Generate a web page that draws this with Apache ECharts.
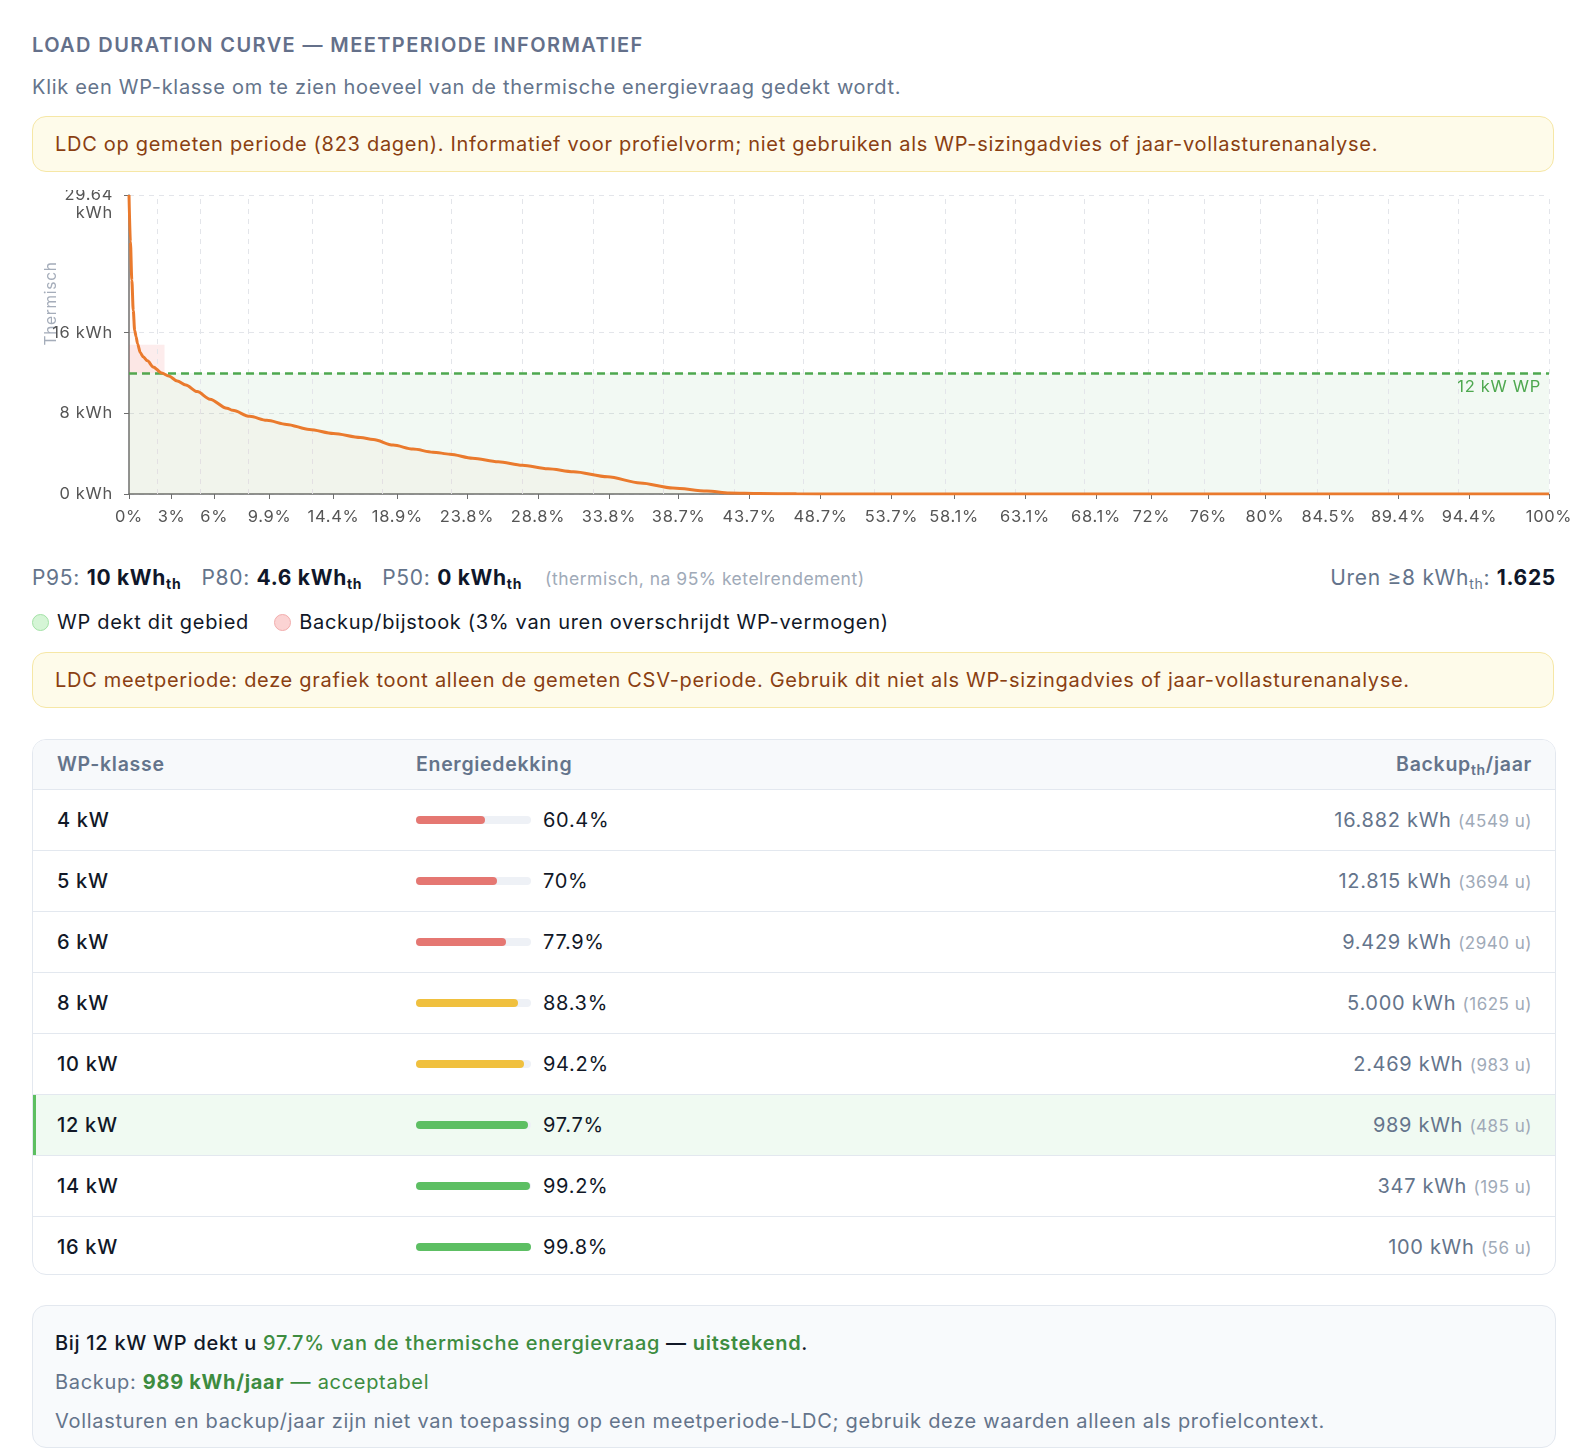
<!DOCTYPE html>
<html>
<head>
<meta charset="utf-8">
<script src="https://cdn.jsdelivr.net/npm/echarts@6/dist/echarts.min.js"></script>
<style>
  html, body { margin: 0; padding: 0; background: #fff; }
  body { width: 1590px; height: 1450px; position: relative; font-family: Inter, "Noto Sans", sans-serif; color: #111827; letter-spacing: 0.7px; }
  .abs { position: absolute; }
  .title { left: 32px; top: 32px; font-size: 20px; line-height: 26px; font-weight: 600; color: #64708a; letter-spacing: 1.4px; }
  .sub { left: 32px; top: 74px; font-size: 20px; line-height: 26px; color: #64748b; }
  .warn { left: 32px; width: 1522px; height: 56px; box-sizing: border-box; background: #fefbea; border: 1px solid #f6e7a6; border-radius: 14px; color: #8a3f12; font-size: 20px; line-height: 54px; padding-left: 22px; }
  #chart { left: 0; top: 190px; width: 1590px; height: 345px; }
  .stats { left: 32px; top: 565px; font-size: 21px; line-height: 26px; color: #64748b; width: 1524px; }
  .stats .it { margin-right: 20px; }
  .stats b { color: #0f172a; font-weight: 700; }
  .stats sub { font-size: 14px; vertical-align: -4px; line-height: 0; }
  .stats .note { font-size: 17.5px; color: #a0aab8; margin-left: 3px; letter-spacing: 0.5px; }
  .stats .right { position: absolute; right: 0; top: 0; }
  .legend { left: 32px; top: 609px; font-size: 20px; line-height: 26px; color: #111827; }
  .dot { display: inline-block; width: 17px; height: 17px; border-radius: 50%; vertical-align: -2px; margin-right: 8px; box-sizing: border-box; }
  .table { left: 32px; top: 739px; width: 1524px; height: 536px; box-sizing: border-box; border: 1px solid #e3e8ef; border-radius: 14px; overflow: hidden; }
  .row { position: relative; height: 60px; border-top: 1px solid #e3e8ef; font-size: 20px; }
  .row.head { height: 49px; border-top: none; background: #f7f9fb; color: #64748b; font-weight: 600; font-size: 19.5px; }
  .row.sel { background: #f0faf2; box-shadow: inset 3px 0 0 #5cbf60; }
  .c1 { position: absolute; left: 24px; top: 0; line-height: 60px; font-weight: 500; }
  .c2 { position: absolute; left: 383px; top: 0; line-height: 60px; }
  .c3 { position: absolute; right: 23px; top: 0; line-height: 60px; color: #64748b; }
  .head .c1, .head .c2, .head .c3 { line-height: 49px; }
  .head .c1 { font-weight: 600; }
  .track { display: inline-block; width: 115px; height: 8px; background: #eef1f6; border-radius: 4px; vertical-align: 3px; margin-right: 12px; position: relative; }
  .fill { position: absolute; left: 0; top: 0; height: 8px; border-radius: 4px; }
  .hrs { font-size: 17px; color: #a0aab8; letter-spacing: 0.5px; }
  .summary { left: 32px; top: 1305px; width: 1524px; height: 143px; box-sizing: border-box; background: #f8fafc; border: 1px solid #e3e8ef; border-radius: 14px; padding: 18px 22px; font-size: 20px; line-height: 39px; color: #64748b; }
  .summary .l1 { color: #111827; font-weight: 500; }
  .g { color: #3d8c40; }
</style>
</head>
<body>
<div class="abs title">LOAD DURATION CURVE — MEETPERIODE INFORMATIEF</div>
<div class="abs sub">Klik een WP-klasse om te zien hoeveel van de thermische energievraag gedekt wordt.</div>
<div class="abs warn" style="top:116px">LDC op gemeten periode (823 dagen). Informatief voor profielvorm; niet gebruiken als WP-sizingadvies of jaar-vollasturenanalyse.</div>
<div class="abs" id="chart"></div>
<div class="abs stats">
  <span class="it">P95: <b>10 kWh<sub>th</sub></b></span><span class="it">P80: <b>4.6 kWh<sub>th</sub></b></span><span class="it">P50: <b>0 kWh<sub>th</sub></b></span><span class="note">(thermisch, na 95% ketelrendement)</span>
  <span class="right">Uren ≥8 kWh<sub>th</sub>: <b>1.625</b></span>
</div>
<div class="abs legend">
  <span class="dot" style="background:#d5f5d6;border:1.5px solid #a3e2a6"></span>WP dekt dit gebied&nbsp;&nbsp;&nbsp;
  <span class="dot" style="background:#fbd3d3;border:1.5px solid #f2adad"></span>Backup/bijstook (3% van uren overschrijdt WP-vermogen)
</div>
<div class="abs warn" style="top:652px">LDC meetperiode: deze grafiek toont alleen de gemeten CSV-periode. Gebruik dit niet als WP-sizingadvies of jaar-vollasturenanalyse.</div>
<div class="abs table" id="table"></div>
<div class="abs summary">
  <div class="l1">Bij 12 kW WP dekt u <span class="g">97.7% van de thermische energievraag</span> — <span class="g" style="font-weight:600">uitstekend</span>.</div>
  <div>Backup: <b class="g">989 kWh/jaar</b> <span class="g">— acceptabel</span></div>
  <div>Vollasturen en backup/jaar zijn niet van toepassing op een meetperiode-LDC; gebruik deze waarden alleen als profielcontext.</div>
</div>

<script>
// load duration curve (x = % of hours, y = thermal kWh)
const pct = [0, 0.1, 0.2, 0.3, 0.4, 0.5, 0.6, 0.8, 1.0, 1.3, 1.7, 2.3, 2.8, 3.4, 4.0, 4.8, 5.7, 6.9, 7.3, 8.5, 9.7, 11.1, 12.7, 14.4, 16.3, 17.2, 18.6, 20.0, 21.4, 22.6, 24.2, 26.0, 27.7, 29.5, 31.3, 33.7, 36.0, 38.3, 40.7, 42.3, 44.4, 47, 50, 60, 70, 80, 90, 100];
const kwh = [29.64, 25, 21.2, 18.2, 16.2, 15.6, 14.9, 14.0, 13.6, 13.2, 12.6, 12.0, 11.7, 11.2, 10.8, 10.15, 9.4, 8.5, 8.3, 7.7, 7.3, 6.9, 6.4, 6.0, 5.6, 5.4, 4.85, 4.45, 4.15, 3.95, 3.55, 3.2, 2.85, 2.5, 2.2, 1.7, 1.1, 0.6, 0.3, 0.1, 0.05, 0.02, 0, 0, 0, 0, 0, 0];
const xTicks = [0, 3, 6, 9.9, 14.4, 18.9, 23.8, 28.8, 33.8, 38.7, 43.7, 48.7, 53.7, 58.1, 63.1, 68.1, 72, 76, 80, 84.5, 89.4, 94.4, 100];
const xGrid = [2, 5, 8.4, 12.9, 17.8, 22.7, 27.7, 32.7, 37.6, 42.6, 47.5, 52.5, 57.5, 62.4, 67.3, 71.8, 75.7, 79.7, 83.7, 88.7, 93.6, 100];
const yTicks = [0, 8, 16, 29.64];
const yMax = 29.64;
const wpKw = 12;
const backupX = 2.5;
const backupTop = 14.8;

// WP class table
const classes = ['4 kW', '5 kW', '6 kW', '8 kW', '10 kW', '12 kW', '14 kW', '16 kW'];
const coverage = [60.4, 70, 77.9, 88.3, 94.2, 97.7, 99.2, 99.8];
const backupKwh = ['16.882', '12.815', '9.429', '5.000', '2.469', '989', '347', '100'];
const backupHours = [4549, 3694, 2940, 1625, 983, 485, 195, 56];
const selected = '12 kW';

function barColor(p) {
  if (p < 85) return '#e57772';
  if (p < 95) return '#f0c03e';
  return '#5dbf63';
}

let html = '<div class="row head"><span class="c1">WP-klasse</span><span class="c2">Energiedekking</span>' +
  '<span class="c3">Backup<sub style="font-size:14px;vertical-align:-4px;line-height:0">th</sub>/jaar</span></div>';
classes.forEach((c, i) => {
  html += '<div class="row' + (c === selected ? ' sel' : '') + '">' +
    '<span class="c1">' + c + '</span>' +
    '<span class="c2"><span class="track"><span class="fill" style="width:' + coverage[i] + '%;background:' + barColor(coverage[i]) + '"></span></span>' + coverage[i] + '%</span>' +
    '<span class="c3">' + backupKwh[i] + ' kWh <span class="hrs">(' + backupHours[i] + ' u)</span></span></div>';
});
document.getElementById('table').innerHTML = html;

const chart = echarts.init(document.getElementById('chart'));
const gridLines = xGrid.map(v => ({
  xAxis: v,
  lineStyle: { color: '#e3e5ea', type: [5, 5], width: 1 },
  label: { show: false }
}));

chart.setOption({
  animation: false,
  textStyle: { fontFamily: 'Inter, "Noto Sans", sans-serif' },
  grid: { left: 129, right: 41, top: 5, height: 299, outerBoundsMode: 'none' },
  xAxis: {
    type: 'value',
    min: 0,
    max: 100,
    axisLine: { lineStyle: { color: '#6e6e6e', width: 1.5 } },
    axisTick: { customValues: xTicks, length: 5, lineStyle: { color: '#6e6e6e' } },
    axisLabel: { customValues: xTicks, formatter: v => v + '%', color: '#555', fontSize: 16.5, margin: 15 },
    splitLine: { show: false }
  },
  yAxis: {
    type: 'value',
    min: 0,
    max: yMax,
    name: 'Thermisch',
    nameLocation: 'middle',
    nameGap: 70,
    nameMoveOverlap: false,
    nameTextStyle: { color: '#a5adba', fontSize: 15.5, padding: [0, 0, 0, 82] },
    axisLine: { show: true, lineStyle: { color: '#6e6e6e', width: 1.5 } },
    axisTick: { show: true, customValues: yTicks, length: 5, lineStyle: { color: '#6e6e6e' } },
    axisLabel: {
      customValues: yTicks,
      formatter: v => (v === yMax ? '\n29.64\nkWh' : v + ' kWh'),
      color: '#555',
      fontSize: 16.5,
      lineHeight: 18,
      margin: 16
    },
    splitLine: { lineStyle: { color: '#e3e5ea', type: [5, 5] } }
  },
  series: [{
    type: 'line',
    data: pct.map((p, i) => [p, kwh[i]]),
    showSymbol: false,
    smooth: 0.3,
    smoothMonotone: 'x',
    lineStyle: { color: '#ea7a2d', width: 3 },
    itemStyle: { color: '#ea7a2d' },
    areaStyle: { color: 'rgba(234,122,45,0.05)' },
    z: 5,
    markArea: {
      silent: true,
      data: [
        [{ xAxis: 0, yAxis: 0, itemStyle: { color: 'rgba(76,175,80,0.07)' } }, { xAxis: 100, yAxis: wpKw }],
        [{ xAxis: 0, yAxis: wpKw, itemStyle: { color: 'rgba(239,83,80,0.11)' } }, { xAxis: backupX, yAxis: backupTop }]
      ]
    },
    markLine: {
      silent: true,
      symbol: ['none', 'none'],
      data: gridLines.concat([{
        yAxis: wpKw,
        lineStyle: { color: '#4ea84f', type: [8, 5], width: 2.5 },
        label: { show: true, position: 'insideEndBottom', formatter: '12 kW WP', color: '#4ea84f', fontSize: 16.5, distance: [8, 6] }
      }])
    }
  }]
});
</script>
</body>
</html>
